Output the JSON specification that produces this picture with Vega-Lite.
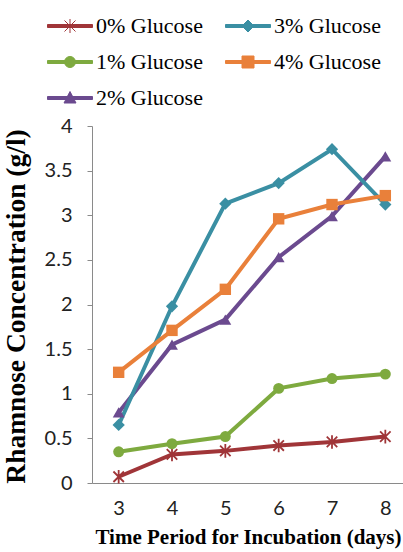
{
  "$schema": "https://vega.github.io/schema/vega-lite/v6.json",
  "autosize": "none",
  "padding": {"left": 92, "top": 126, "right": 0, "bottom": 69},
  "width": 312,
  "height": 357,
  "background": "white",
  "config": {"view": {"stroke": null}},
  "data": {"values": [
    {"day": 3, "series": "0% Glucose", "value": 0.07},
    {"day": 4, "series": "0% Glucose", "value": 0.32},
    {"day": 5, "series": "0% Glucose", "value": 0.36},
    {"day": 6, "series": "0% Glucose", "value": 0.42},
    {"day": 7, "series": "0% Glucose", "value": 0.46},
    {"day": 8, "series": "0% Glucose", "value": 0.52},
    {"day": 3, "series": "1% Glucose", "value": 0.35},
    {"day": 4, "series": "1% Glucose", "value": 0.44},
    {"day": 5, "series": "1% Glucose", "value": 0.52},
    {"day": 6, "series": "1% Glucose", "value": 1.06},
    {"day": 7, "series": "1% Glucose", "value": 1.17},
    {"day": 8, "series": "1% Glucose", "value": 1.22},
    {"day": 3, "series": "2% Glucose", "value": 0.79},
    {"day": 4, "series": "2% Glucose", "value": 1.55},
    {"day": 5, "series": "2% Glucose", "value": 1.83},
    {"day": 6, "series": "2% Glucose", "value": 2.53},
    {"day": 7, "series": "2% Glucose", "value": 2.99},
    {"day": 8, "series": "2% Glucose", "value": 3.66},
    {"day": 3, "series": "3% Glucose", "value": 0.65},
    {"day": 4, "series": "3% Glucose", "value": 1.98},
    {"day": 5, "series": "3% Glucose", "value": 3.13},
    {"day": 6, "series": "3% Glucose", "value": 3.36},
    {"day": 7, "series": "3% Glucose", "value": 3.74},
    {"day": 8, "series": "3% Glucose", "value": 3.12},
    {"day": 3, "series": "4% Glucose", "value": 1.24},
    {"day": 4, "series": "4% Glucose", "value": 1.71},
    {"day": 5, "series": "4% Glucose", "value": 2.17},
    {"day": 6, "series": "4% Glucose", "value": 2.96},
    {"day": 7, "series": "4% Glucose", "value": 3.12},
    {"day": 8, "series": "4% Glucose", "value": 3.22}
  ]},
  "encoding": {
    "x": {
      "field": "day", "type": "quantitative",
      "scale": {"domain": [2.5, 8.35], "nice": false, "zero": false},
      "axis": {
        "values": [3, 4, 5, 6, 7, 8], "format": "d", "grid": false, "ticks": false,
        "domainColor": "#8a8a8a", "domainWidth": 1,
        "labelFont": "Lato", "labelFontSize": 20, "labelColor": "#222222", "labelPadding": 15,
        "title": "Time Period for Incubation (days)",
        "titleFont": "Liberation Serif", "titleFontWeight": "bold", "titleFontSize": 21, "titleColor": "#000000",
        "titleX": 156, "titleY": 60, "titleBaseline": "alphabetic", "titleAlign": "center"
      }
    },
    "y": {
      "field": "value", "type": "quantitative",
      "scale": {"domain": [0, 4], "nice": false},
      "axis": {
        "values": [0, 0.5, 1, 1.5, 2, 2.5, 3, 3.5, 4], "format": "~g", "grid": false,
        "ticks": true, "tickSize": 5, "tickColor": "#8a8a8a",
        "domainColor": "#8a8a8a", "domainWidth": 1,
        "labelFont": "Lato", "labelFontSize": 20, "labelColor": "#222222", "labelPadding": 15,
        "title": "Rhamnose Concentration (g/l)",
        "titleFont": "Liberation Serif", "titleFontWeight": "bold", "titleFontSize": 27.5, "titleColor": "#000000",
        "titleAngle": -90, "titleX": -76, "titleY": 180, "titleAlign": "center", "titleBaseline": "middle"
      }
    }
  },
  "layer": [
    {
      "mark": {"type": "point", "filled": true, "size": 100, "strokeWidth": 1, "opacity": 0},
      "encoding": {
        "color": {
          "field": "series", "type": "nominal",
          "scale": {
            "domain": ["0% Glucose", "1% Glucose", "2% Glucose", "3% Glucose", "4% Glucose"],
            "range": ["#A03538", "#7EAA3F", "#6B4A8F", "#3A8FA3", "#E9803A"]
          },
          "legend": {
            "orient": "none", "legendX": -33, "legendY": -111,
            "columns": 2, "title": null,
            "labelFont": "Liberation Serif", "labelFontSize": 22, "labelColor": "#000000",
            "labelOffset": 15, "columnPadding": 20, "rowPadding": 14,
            "symbolSize": 100, "symbolStrokeWidth": 1, "symbolOpacity": 1, "labelLimit": 300
          }
        },
        "stroke": {
          "field": "series", "type": "nominal",
          "scale": {
            "domain": ["0% Glucose", "1% Glucose", "2% Glucose", "3% Glucose", "4% Glucose"],
            "range": ["#A03538", "#7EAA3F", "#6B4A8F", "#3A8FA3", "#E9803A"]
          },
          "legend": {
            "orient": "none", "legendX": -33, "legendY": -111,
            "columns": 2, "title": null,
            "labelFont": "Liberation Serif", "labelFontSize": 22, "labelColor": "#000000",
            "labelOffset": 15, "columnPadding": 20, "rowPadding": 14,
            "symbolSize": 100, "symbolStrokeWidth": 1, "symbolOpacity": 1, "labelLimit": 300
          }
        },
        "shape": {
          "field": "series", "type": "nominal",
          "scale": {
            "domain": ["0% Glucose", "1% Glucose", "2% Glucose", "3% Glucose", "4% Glucose"],
            "range": [
              "M-4.5,-0.3H4.5V0.3H-4.5Z M-1.1,-1.1L1.1,1.1M-1.1,1.1L1.1,-1.1M0,-1.4L0,1.4",
              "M-4.5,-0.3H4.5V0.3H-4.5Z M-1.1,0A1.1,1.1 0 1,1 1.1,0A1.1,1.1 0 1,1 -1.1,0Z",
              "M-4.5,-0.3H4.5V0.3H-4.5Z M0,-1.3L1.2,1L-1.2,1Z",
              "M-4.5,-0.3H4.5V0.3H-4.5Z M-1.2,0L0,-1.2L1.2,0L0,1.2Z",
              "M-4.5,-0.3H4.5V0.3H-4.5Z M-1.2,-1.2H1.2V1.2H-1.2Z"
            ]
          },
          "legend": {
            "orient": "none", "legendX": -33, "legendY": -111,
            "columns": 2, "title": null,
            "labelFont": "Liberation Serif", "labelFontSize": 22, "labelColor": "#000000",
            "labelOffset": 15, "columnPadding": 20, "rowPadding": 14,
            "symbolSize": 100, "symbolStrokeWidth": 1, "symbolOpacity": 1, "labelLimit": 300
          }
        }
      }
    },
    {
      "mark": {"type": "line", "strokeWidth": 4},
      "encoding": {"color": {"field": "series", "type": "nominal", "legend": null}}
    },
    {
      "transform": [{"filter": "datum.series === '0% Glucose'"}],
      "mark": {"type": "point", "filled": false, "shape": "M-1,-1L1,1M-1,1L1,-1M0,-1.3L0,1.3", "size": 110, "strokeWidth": 1.8, "opacity": 1},
      "encoding": {"color": {"field": "series", "type": "nominal", "legend": null}}
    },
    {
      "transform": [{"filter": "datum.series === '1% Glucose'"}],
      "mark": {"type": "point", "filled": true, "shape": "circle", "size": 120, "opacity": 1},
      "encoding": {"color": {"field": "series", "type": "nominal", "legend": null}}
    },
    {
      "transform": [{"filter": "datum.series === '2% Glucose'"}],
      "mark": {"type": "point", "filled": true, "shape": "triangle-up", "size": 140, "opacity": 1},
      "encoding": {"color": {"field": "series", "type": "nominal", "legend": null}}
    },
    {
      "transform": [{"filter": "datum.series === '3% Glucose'"}],
      "mark": {"type": "point", "filled": true, "shape": "diamond", "size": 150, "opacity": 1},
      "encoding": {"color": {"field": "series", "type": "nominal", "legend": null}}
    },
    {
      "transform": [{"filter": "datum.series === '4% Glucose'"}],
      "mark": {"type": "point", "filled": true, "shape": "square", "size": 130, "opacity": 1},
      "encoding": {"color": {"field": "series", "type": "nominal", "legend": null}}
    }
  ]
}
